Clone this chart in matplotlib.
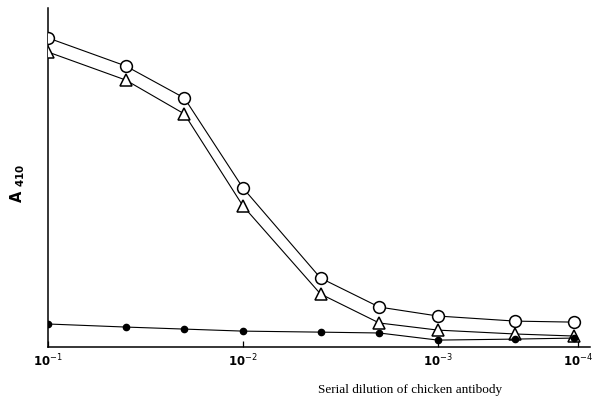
import matplotlib
matplotlib.use("Agg")
import matplotlib.pyplot as plt

# dilution factors (1:10 ... 1:5000) and A410 readings
dilution = [1/10, 1/25, 1/50, 1/100, 1/250, 1/500, 1/1000, 1/2500, 1/5000]
circle_vals = [1.823, 1.658, 1.469, 0.938, 0.407, 0.236, 0.183, 0.153, 0.147]
triangle_vals = [1.740, 1.575, 1.375, 0.832, 0.313, 0.142, 0.100, 0.077, 0.065]
filled_vals = [0.136, 0.118, 0.106, 0.094, 0.088, 0.083, 0.041, 0.047, 0.053]

tick_pos = [1e-1, 1e-2, 1e-3, 1.9e-4]
tick_labels = [r"$\mathbf{10}^{-1}$", r"$\mathbf{10}^{-2}$",
               r"$\mathbf{10}^{-3}$", r"$\mathbf{10}^{-4}$"]

fig = plt.figure(figsize=(5.94, 3.98), dpi=100)
ax = fig.add_axes([0.081, 0.128, 0.912, 0.852])

ax.plot(dilution, circle_vals, color="black", lw=0.8, marker="o", ms=8.5,
        mfc="white", mec="black", mew=1.1, zorder=3)
ax.plot(dilution, triangle_vals, color="black", lw=0.8, marker="^", ms=8,
        mfc="white", mec="black", mew=1.1, zorder=3)
ax.plot(dilution, filled_vals, color="black", lw=0.8, marker="o", ms=4.5,
        mfc="black", mec="black", zorder=3)

ax.set_xscale("log")
ax.set_xlim(0.1, 1.66e-4)
ax.set_ylim(0, 2.0)

ax.set_xticks(tick_pos)
ax.set_xticklabels(tick_labels, fontsize=8.5)
ax.minorticks_off()
ax.tick_params(axis="x", direction="in", length=4, width=0.9, pad=4)
ax.set_yticks([])

for s in ["top", "right"]:
    ax.spines[s].set_visible(False)
for s in ["left", "bottom"]:
    ax.spines[s].set_linewidth(1.1)

fig.text(0.03, 0.54, r"$\mathbf{A}\ _{\mathbf{410}}$", rotation=90,
         fontsize=10.5, ha="center", va="center")
fig.text(0.69, 0.005, "Serial dilution of chicken antibody",
         family="Liberation Serif", fontsize=9.5, ha="center", va="bottom")

fig.savefig("out.png", dpi=100)
